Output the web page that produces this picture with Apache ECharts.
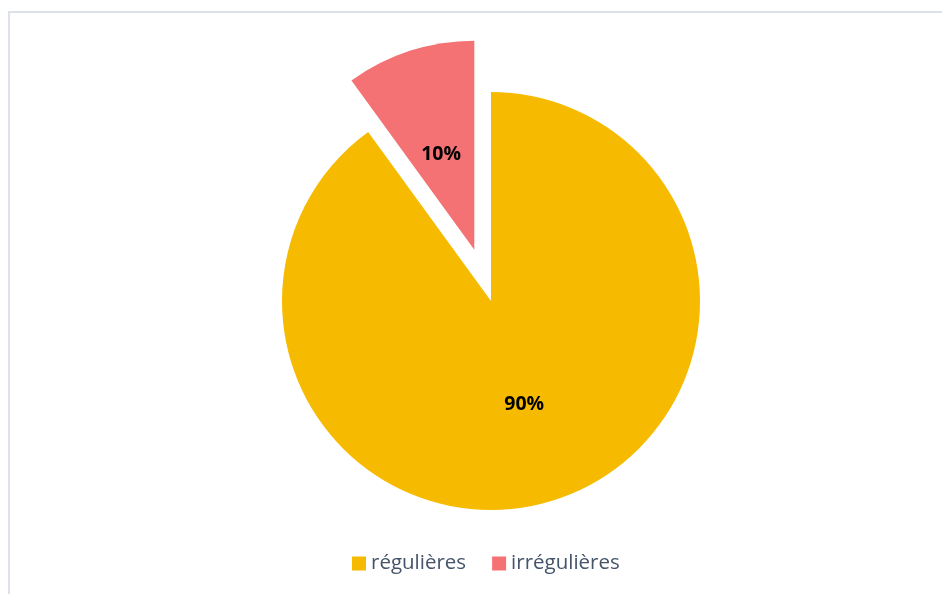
<!DOCTYPE html>
<html><head><meta charset="utf-8">
<script src="https://cdn.jsdelivr.net/npm/echarts@6/dist/echarts.min.js"></script>
<style>html,body{margin:0;padding:0;background:#fff}#c{width:942px;height:594px}</style>
</head><body><div id="c"></div>
<script>
const categories = ['régulières', 'irrégulières'];
const values = [90, 10];
const colors = ['#F6BB00', '#F47174'];

const chart = echarts.init(document.getElementById('c'));
chart.setOption({
  animation: false,
  graphic: [
    { type: 'polyline', shape: { points: [[9, 594], [9, 12], [942, 12]] },
      style: { stroke: '#DDE1E8', lineWidth: 2, fill: null } }
  ],
  legend: {
    bottom: 15, left: 347,
    itemWidth: 14, itemHeight: 14, itemGap: 26,
    icon: 'rect',
    textStyle: { fontFamily: 'Open Sans', fontSize: 20.5, color: '#44546A' },
    data: categories
  },
  series: [{
    type: 'pie',
    center: [491, 301],
    radius: [0, 209],
    startAngle: 90,
    clockwise: true,
    selectedMode: 'single',
    selectedOffset: 54,
    label: {
      show: true, position: 'inside',
      formatter: p => p.value + '%',
      fontFamily: 'Open Sans', fontWeight: 'bold', fontSize: 19.5, color: '#000'
    },
    labelLayout: p => (p.dataIndex === 1 ? { dy: 7 } : { dy: 1 }),
    labelLine: { show: false },
    emphasis: { disabled: true },
    data: categories.map((c, i) => ({
      name: c, value: values[i], selected: i === 1,
      itemStyle: { color: colors[i] }
    }))
  }]
});
</script></body></html>
